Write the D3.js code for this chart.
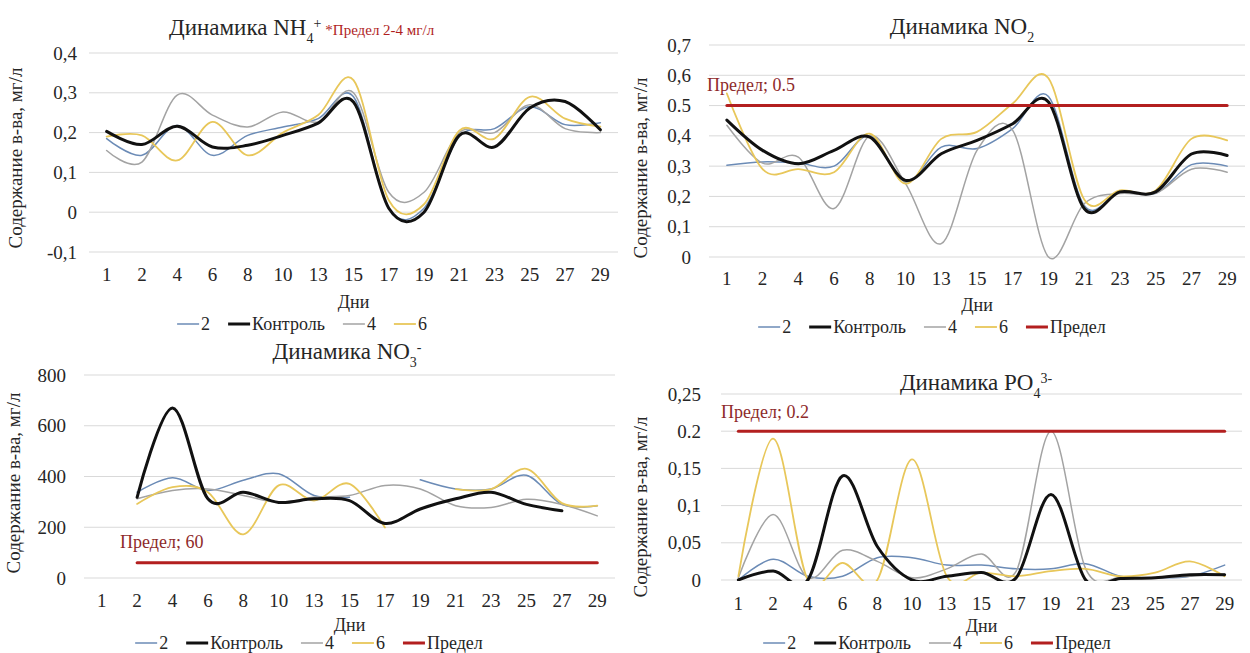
<!DOCTYPE html>
<html>
<head>
<meta charset="utf-8">
<script src="https://cdn.jsdelivr.net/npm/d3@7"></script>
<style>
  body { margin: 0; background: #fff; }
</style>
</head>
<body>
<svg id="chart" width="1250" height="653"></svg>
<script>
// days of sampling (category axis, same for all four charts)
const days = ["1", "2", "4", "6", "8", "10", "13", "15", "17", "19", "21", "23", "25", "27", "29"];

// NH4+
const nh4S2      = [0.185, 0.143, 0.218, 0.143, 0.193, 0.214, 0.235, 0.29, 0.01, 0.01, 0.19, 0.21, 0.265, 0.22, 0.225];
const nh4Control = [0.203, 0.17, 0.216, 0.164, 0.168, 0.193, 0.224, 0.277, 0.01, 0.0, 0.193, 0.164, 0.262, 0.278, 0.207];
const nh4S4      = [0.155, 0.126, 0.294, 0.244, 0.214, 0.252, 0.227, 0.3, 0.05, 0.05, 0.2, 0.2, 0.27, 0.21, 0.2];
const nh4S6      = [0.19, 0.193, 0.13, 0.227, 0.143, 0.2, 0.244, 0.332, 0.03, 0.02, 0.205, 0.185, 0.29, 0.235, 0.215];

// NO2
const no2S2      = [0.303, 0.314, 0.31, 0.3, 0.4, 0.248, 0.363, 0.358, 0.424, 0.53, 0.17, 0.215, 0.21, 0.305, 0.3];
const no2Control = [0.452, 0.352, 0.308, 0.352, 0.396, 0.253, 0.341, 0.385, 0.44, 0.512, 0.16, 0.215, 0.215, 0.34, 0.335];
const no2S4      = [0.435, 0.31, 0.33, 0.16, 0.4, 0.242, 0.044, 0.352, 0.418, 0.0, 0.176, 0.21, 0.21, 0.29, 0.28];
const no2S6      = [0.54, 0.29, 0.29, 0.28, 0.407, 0.242, 0.39, 0.413, 0.507, 0.59, 0.19, 0.22, 0.22, 0.39, 0.385];
const no2Limit   = [0.5, 0.5, 0.5, 0.5, 0.5, 0.5, 0.5, 0.5, 0.5, 0.5, 0.5, 0.5, 0.5, 0.5, 0.5];

// NO3-
const no3S2      = [null, 338, 395, 345, 385, 411, 325, 318, null, 387, 351, 351, 405, 290, 285];
const no3Control = [null, 318, 670, 312, 338, 298, 312, 305, 215, 272, 312, 338, 290, 265, null];
const no3S4      = [null, 312, 345, 351, 325, 298, 318, 325, 365, 351, 285, 278, 310, 290, 245];
const no3S6      = [null, 292, 358, 338, 172, 365, 305, 371, 199, null, 350, 350, 430, 295, 285];
const no3Limit   = [null, 60, 60, 60, 60, 60, 60, 60, 60, 60, 60, 60, 60, 60, 60];

// PO4 3-
const po4S2      = [0.0, 0.028, 0.005, 0.005, 0.03, 0.03, 0.02, 0.02, 0.015, 0.015, 0.022, 0.005, 0.003, 0.005, 0.02];
const po4Control = [0.0, 0.012, 0.0, 0.14, 0.045, 0.0, 0.005, 0.01, 0.003, 0.115, 0.0, 0.002, 0.003, 0.007, 0.007];
const po4S4      = [0.003, 0.088, 0.003, 0.04, 0.025, 0.003, 0.015, 0.035, 0.012, 0.2, 0.015, 0.003, 0.003, 0.005, 0.008];
const po4S6      = [0.005, 0.19, 0.0, 0.023, 0.0, 0.162, 0.005, 0.01, 0.005, 0.012, 0.015, 0.005, 0.01, 0.025, 0.005];
const po4Limit   = [0.2, 0.2, 0.2, 0.2, 0.2, 0.2, 0.2, 0.2, 0.2, 0.2, 0.2, 0.2, 0.2, 0.2, 0.2];

// y axis ticks and their labels
const nh4Ticks = [-0.1, 0, 0.1, 0.2, 0.3, 0.4];
const nh4TickLabels = ["-0,1", "0", "0,1", "0,2", "0,3", "0,4"];
const no2Ticks = [0, 0.1, 0.2, 0.3, 0.4, 0.5, 0.6, 0.7];
const no2TickLabels = ["0", "0,1", "0,2", "0,3", "0,4", "0.5", "0,6", "0,7"];
const no3Ticks = [0, 200, 400, 600, 800];
const no3TickLabels = ["0", "200", "400", "600", "800"];
const po4Ticks = [0, 0.05, 0.1, 0.15, 0.2, 0.25];
const po4TickLabels = ["0", "0,05", "0,1", "0,15", "0.2", "0,25"];

const seriesNames = ["2", "Контроль", "4", "6", "Предел"];

// colours of the series
const colorS2 = "#6b8bb6";
const colorControl = "#111111";
const colorS4 = "#a3a3a3";
const colorS6 = "#e8c75a";
const colorLimit = "#b31f1f";

// a single family name: stacks fell back to sans here
const serif = "'Liberation Serif'";
const textColor = "#262626";

const svg = d3.select("#chart");

const line = d3.line()
  .defined(function(d) { return d.v != null; })
  .curve(d3.curveCardinal.tension(0));

function makeSeries(values, name, color, width, order) {
  return { name: name, color: color, width: width, values: values, order: order };
}

function drawPanel(p, idx) {
  const g = svg.append("g");

  const x = d3.scaleBand().domain(days).range([p.x0, p.x1]);
  const y = d3.scaleLinear().domain(p.yDomain).range([p.yBottom, p.yTop]);

  // horizontal gridlines
  g.selectAll(".grid")
    .data(p.ticks)
    .enter()
    .append("line")
    .attr("x1", p.x0)
    .attr("x2", p.x1)
    .attr("y1", function(d) { return y(d); })
    .attr("y2", function(d) { return y(d); })
    .attr("stroke", "#d9d9d9")
    .attr("stroke-width", 1);

  // y tick labels
  const yAxis = g.append("g")
    .attr("transform", "translate(" + p.x0 + ",0)")
    .call(d3.axisLeft(y).tickValues(p.ticks).tickSize(0).tickPadding(p.yPad)
      .tickFormat(function(d, i) { return p.tickLabels[i]; }));
  yAxis.select(".domain").remove();
  yAxis.selectAll("text")
    .style("font-family", serif).style("font-size", "19px").attr("fill", textColor);

  // x tick labels
  const xAxis = g.append("g")
    .attr("transform", "translate(0," + p.yBottom + ")")
    .call(d3.axisBottom(x).tickSize(0).tickPadding(p.xPad));
  xAxis.select(".domain").remove();
  xAxis.selectAll("text")
    .style("font-family", serif).style("font-size", "19px").attr("fill", textColor);

  // clip to the plot area
  svg.append("clipPath")
    .attr("id", "clip" + idx)
    .append("rect")
    .attr("x", p.x0)
    .attr("y", p.yTop - 20)
    .attr("width", p.x1 - p.x0)
    .attr("height", p.yBottom - p.yTop + 20 + p.clipBottom);

  const lines = g.append("g").attr("clip-path", "url(#clip" + idx + ")");
  lines.selectAll("path")
    .data(p.series)
    .enter()
    .append("path")
    .attr("d", function(s) {
      return line.x(function(d) { return x(d.day) + x.bandwidth() / 2; })
        .y(function(d) { return y(d.v); })(s.values.map(function(v, i) { return { day: days[i], v: v }; }));
    })
    .attr("fill", "none")
    .attr("stroke", function(s) { return s.color; })
    .attr("stroke-width", function(s) { return s.width; })
    .attr("stroke-linejoin", "round")
    .attr("stroke-linecap", "round");

  // y axis title
  g.append("text")
    .attr("transform", "translate(" + p.yTitleX + "," + p.yTitleY + ") rotate(-90)")
    .attr("text-anchor", "middle")
    .attr("fill", textColor)
    .style("font-family", serif)
    .style("font-size", "19px")
    .text("Содержание в-ва, мг/л");

  // x axis title
  g.append("text")
    .attr("x", (p.x0 + p.x1) / 2)
    .attr("y", p.xTitleY)
    .attr("text-anchor", "middle")
    .attr("fill", textColor)
    .style("font-family", serif)
    .style("font-size", "18px")
    .text("Дни");

  // limit label
  if (p.limitLabel) {
    g.append("text")
      .attr("x", p.limitLabel.x)
      .attr("y", p.limitLabel.y)
      .attr("fill", "#8e2a2a")
      .style("font-family", serif)
      .style("font-size", "18px")
      .text(p.limitLabel.text);
  }

  // legend in the original order: 2, Контроль, 4, 6, Предел
  const legendItems = p.series.slice().sort(function(a, b) { return a.order - b.order; });
  const legend = g.append("g");
  let cx = 0;
  legendItems.forEach(function(s) {
    const item = legend.append("g").attr("transform", "translate(" + cx + ",0)");
    item.append("line")
      .attr("x1", 0).attr("x2", 22)
      .attr("y1", 0).attr("y2", 0)
      .attr("stroke", s.color)
      .attr("stroke-width", s.width);
    const t = item.append("text")
      .attr("x", 24)
      .attr("dy", "0.35em")
      .attr("fill", textColor)
      .style("font-family", serif)
      .style("font-size", "18px")
      .text(s.name);
    cx += 24 + t.node().getComputedTextLength() + 18;
  });
  const legendWidth = cx - 18;
  legend.attr("transform", "translate(" + (p.legendCenter - legendWidth / 2) + "," + p.legendY + ")");

  return g;
}

// ---- NH4+ ----
drawPanel({
  x0: 89, x1: 618, yTop: 53, yBottom: 252, yDomain: [-0.1, 0.4],
  ticks: nh4Ticks, tickLabels: nh4TickLabels, yPad: 12, xPad: 16, clipBottom: 0,
  yTitleX: 22, yTitleY: 158, xTitleY: 308, legendCenter: 302, legendY: 324,
  series: [
    makeSeries(nh4S2, seriesNames[0], colorS2, 1.5, 0),
    makeSeries(nh4S4, seriesNames[2], colorS4, 1.5, 2),
    makeSeries(nh4S6, seriesNames[3], colorS6, 1.8, 3),
    makeSeries(nh4Control, seriesNames[1], colorControl, 3, 1)
  ]
}, 1);

// ---- NO2 ----
drawPanel({
  x0: 709, x1: 1245, yTop: 45, yBottom: 257, yDomain: [0, 0.7],
  ticks: no2Ticks, tickLabels: no2TickLabels, yPad: 18, xPad: 15, clipBottom: 20,
  yTitleX: 647, yTitleY: 168, xTitleY: 311, legendCenter: 932, legendY: 327,
  limitLabel: { x: 707, y: 91, text: "Предел; 0.5" },
  series: [
    makeSeries(no2S2, seriesNames[0], colorS2, 1.5, 0),
    makeSeries(no2S4, seriesNames[2], colorS4, 1.5, 2),
    makeSeries(no2S6, seriesNames[3], colorS6, 1.8, 3),
    makeSeries(no2Control, seriesNames[1], colorControl, 3, 1),
    makeSeries(no2Limit, seriesNames[4], colorLimit, 3, 4)
  ]
}, 2);

// ---- NO3- ----
drawPanel({
  x0: 84, x1: 615, yTop: 375, yBottom: 578, yDomain: [0, 800],
  ticks: no3Ticks, tickLabels: no3TickLabels, yPad: 18, xPad: 16, clipBottom: 0,
  yTitleX: 20, yTitleY: 483, xTitleY: 631, legendCenter: 309, legendY: 643,
  limitLabel: { x: 120, y: 548, text: "Предел; 60" },
  series: [
    makeSeries(no3S2, seriesNames[0], colorS2, 1.5, 0),
    makeSeries(no3S4, seriesNames[2], colorS4, 1.5, 2),
    makeSeries(no3S6, seriesNames[3], colorS6, 1.8, 3),
    makeSeries(no3Control, seriesNames[1], colorControl, 3, 1),
    makeSeries(no3Limit, seriesNames[4], colorLimit, 3, 4)
  ]
}, 3);

// ---- PO4 3- ----
drawPanel({
  x0: 721, x1: 1242, yTop: 394, yBottom: 580, yDomain: [0, 0.25],
  ticks: po4Ticks, tickLabels: po4TickLabels, yPad: 20, xPad: 17, clipBottom: 1,
  yTitleX: 647, yTitleY: 507, xTitleY: 632, legendCenter: 937, legendY: 643,
  limitLabel: { x: 721, y: 418, text: "Предел; 0.2" },
  series: [
    makeSeries(po4S2, seriesNames[0], colorS2, 1.5, 0),
    makeSeries(po4S4, seriesNames[2], colorS4, 1.5, 2),
    makeSeries(po4S6, seriesNames[3], colorS6, 1.8, 3),
    makeSeries(po4Control, seriesNames[1], colorControl, 3, 1),
    makeSeries(po4Limit, seriesNames[4], colorLimit, 3, 4)
  ]
}, 4);

// titles with sub/superscripts
function title(x, y, anchor, base, sub, sup) {
  const t = svg.append("text")
    .attr("x", x)
    .attr("y", y)
    .attr("text-anchor", anchor)
    .attr("fill", textColor)
    .style("font-family", serif)
    .style("font-size", "23px");
  t.append("tspan").text(base);
  t.append("tspan").attr("baseline-shift", "sub").style("font-size", "14px").text(sub);
  t.append("tspan").attr("baseline-shift", "super").style("font-size", "14px").text(sup);
  return t;
}

const t1 = title(169, 35, "start", "Динамика NH", "4", "+");
t1.append("tspan").attr("dx", 4).attr("fill", "#b01e1e").style("font-size", "15px").text("*Предел 2-4 мг/л");
title(962, 34, "middle", "Динамика NO", "2", "");
title(347, 359, "middle", "Динамика NO", "3", "-");
title(976, 390, "middle", "Динамика PO", "4", "3-");
</script>
</body>
</html>
